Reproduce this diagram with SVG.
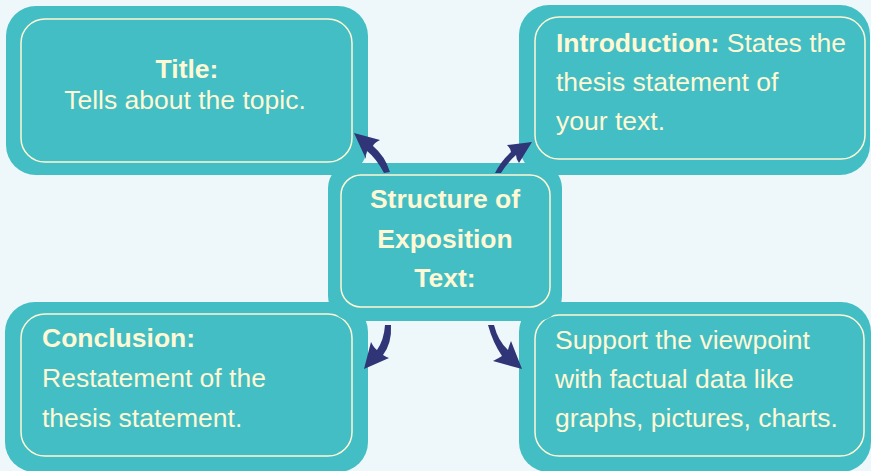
<svg xmlns="http://www.w3.org/2000/svg" width="871" height="471" viewBox="0 0 871 471">
<style>
.outer{fill:#43BEC5}
.inner{fill:#43BEC5;stroke:#FFF8D4;stroke-width:1.5}
.t{font-family:"Liberation Sans",Arial,sans-serif;font-size:26.5px;fill:#FFF8D4}
.b{font-weight:bold}
.arr{fill:#2F3577}
</style>
<rect x="0" y="0" width="871" height="471" fill="#EEF7F9"/>
<g id="node-title">
<rect class="outer" x="6" y="6" width="362" height="169" rx="30"/>
<rect class="inner" x="21" y="19" width="331" height="143" rx="24"/>
<text class="t b" x="187" y="78" text-anchor="middle">Title:</text>
<text class="t" x="185" y="109" text-anchor="middle">Tells about the topic.</text>
</g>
<g id="node-intro">
<rect class="outer" x="519" y="5" width="351" height="170" rx="30"/>
<rect class="inner" x="535" y="17" width="330" height="142" rx="24"/>
<text class="t" x="556" y="52"><tspan class="b">Introduction:</tspan> States the</text>
<text class="t" x="556" y="91">thesis statement of</text>
<text class="t" x="556" y="130">your text.</text>
</g>
<g id="node-conclusion">
<rect class="outer" x="5" y="302" width="363" height="170" rx="30"/>
<rect class="inner" x="21" y="314" width="331" height="142" rx="24"/>
<text class="t b" x="42" y="347">Conclusion:</text>
<text class="t" x="42" y="387">Restatement of the</text>
<text class="t" x="42" y="427">thesis statement.</text>
</g>
<g id="node-support">
<rect class="outer" x="519" y="302" width="352" height="170" rx="30"/>
<rect class="inner" x="535" y="315" width="329" height="141" rx="24"/>
<text class="t" x="555" y="349">Support the viewpoint</text>
<text class="t" x="555" y="388">with factual data like</text>
<text class="t" x="555" y="427">graphs, pictures, charts.</text>
</g>
<g id="node-center">
<rect class="outer" x="328" y="163" width="234" height="158" rx="25"/>
<rect class="inner" x="341" y="175" width="209" height="132" rx="20"/>
<text class="t b" x="445" y="208" text-anchor="middle">Structure of</text>
<text class="t b" x="445" y="248" text-anchor="middle">Exposition</text>
<text class="t b" x="445" y="287" text-anchor="middle">Text:</text>
</g>
<g id="connectors">
<path class="arr" d="M354,133 L380,140 Q374,143 373,146 Q385,156 390,172 L384,173 Q376,158 367,151 Q365,155 366,159 Z"/>
<path class="arr" d="M532,142 L507,145 Q511,149 511,152 Q501,161 495,173 L501,173 Q508,162 516,155 Q516,159 519,163 Z"/>
<path class="arr" d="M364,369 L371,342 Q374,348 377,350 Q384,340 385,325 L391,325 Q392,343 383,355 Q386,357 389,358 Z"/>
<path class="arr" d="M522,369 L493,361 Q499,358 502,356 Q493,343 488,325 L494,325 Q498,341 508,350 Q509,346 511,341 Z"/>
</g>
</svg>
